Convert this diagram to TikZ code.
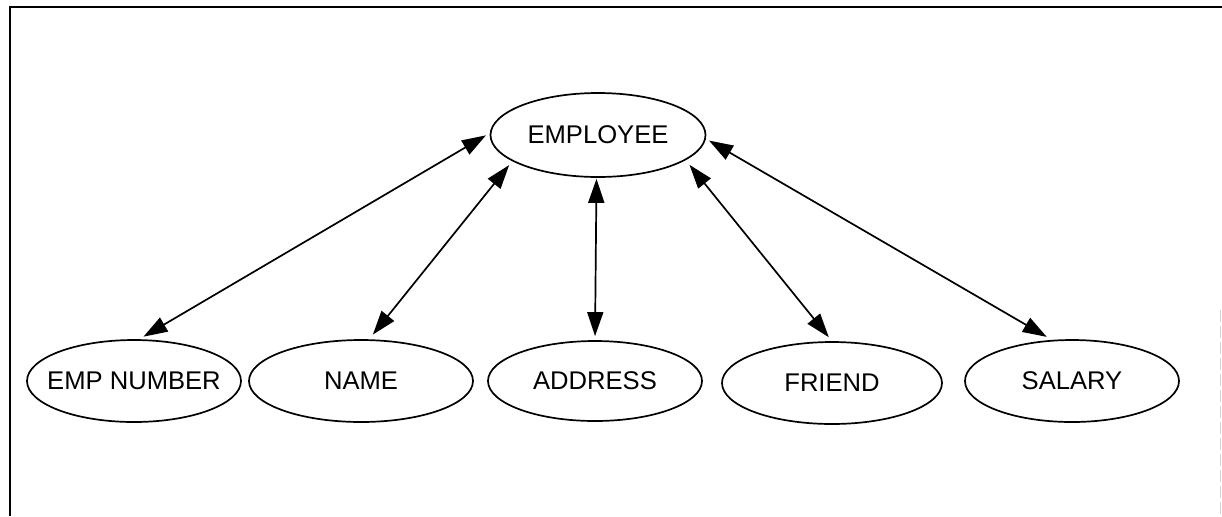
\documentclass[tikz,border=0pt]{standalone}
\usepackage{fontspec}
\setmainfont{Liberation Sans}
\usetikzlibrary{shapes.geometric,arrows.meta}
\begin{document}
\begin{tikzpicture}[x=0.5pt,y=-0.5pt,
  attr/.style={draw, ellipse, line width=0.85pt, inner sep=0pt,
    minimum width=#1, minimum height=41pt,
    font=\fontsize{12.8}{15}\selectfont},
  attr/.default=107pt,
  link/.style={line width=0.85pt, {Triangle[length=12pt,width=8pt]}-{Triangle[length=12pt,width=8pt]}},
  frame/.style={line width=0.9pt}]
\useasboundingbox (0,0) rectangle (1222,516);

% frame lines
\coordinate (ftl) at (10,7);
\coordinate (ftr) at (1222,7);
\coordinate (fbl) at (10,516);
\coordinate (frt) at (1220.5,310);
\coordinate (frb) at (1220.5,516);
\draw[frame] (ftr) -- (ftl) -- (fbl);
\draw[gray!35, line width=0.4pt, dash pattern=on 6pt off 2pt] (frt) -- (frb);

% entity and its attributes
\node[attr=107.5pt, minimum height=42pt] (emp) at (598,135) {\makebox[0pt]{EMPLOYEE}};
\node[attr=107pt] (num) at (134,381) {\makebox[0pt]{EMP NUMBER}};
\node[attr=112pt] (name) at (361,381) {\makebox[0pt]{NAME}};
\node[attr=107pt, minimum height=40pt] (addr) at (595,381) {\makebox[0pt]{ADDRESS}};
\node[attr=110pt] (friend) at (832,383) {\makebox[0pt]{FRIEND}};
\node[attr=107pt] (sal) at (1072,381) {\makebox[0pt]{SALARY}};

% two-way links
\draw[link, shorten <=2.5pt, shorten >=2.2pt] (num.83) -- (emp.179);
\draw[link, shorten <=3pt, shorten >=2.5pt] (name.79) -- (emp.197);
\draw[link, shorten <=2pt, shorten >=0.5pt] (addr.90) -- (emp.268);
\draw[link, shorten <=2.5pt, shorten >=3pt] (friend.90) -- (emp.344);
\draw[link, shorten <=3pt, shorten >=1.8pt] (sal.116) -- (emp.358);
\end{tikzpicture}
\end{document}
